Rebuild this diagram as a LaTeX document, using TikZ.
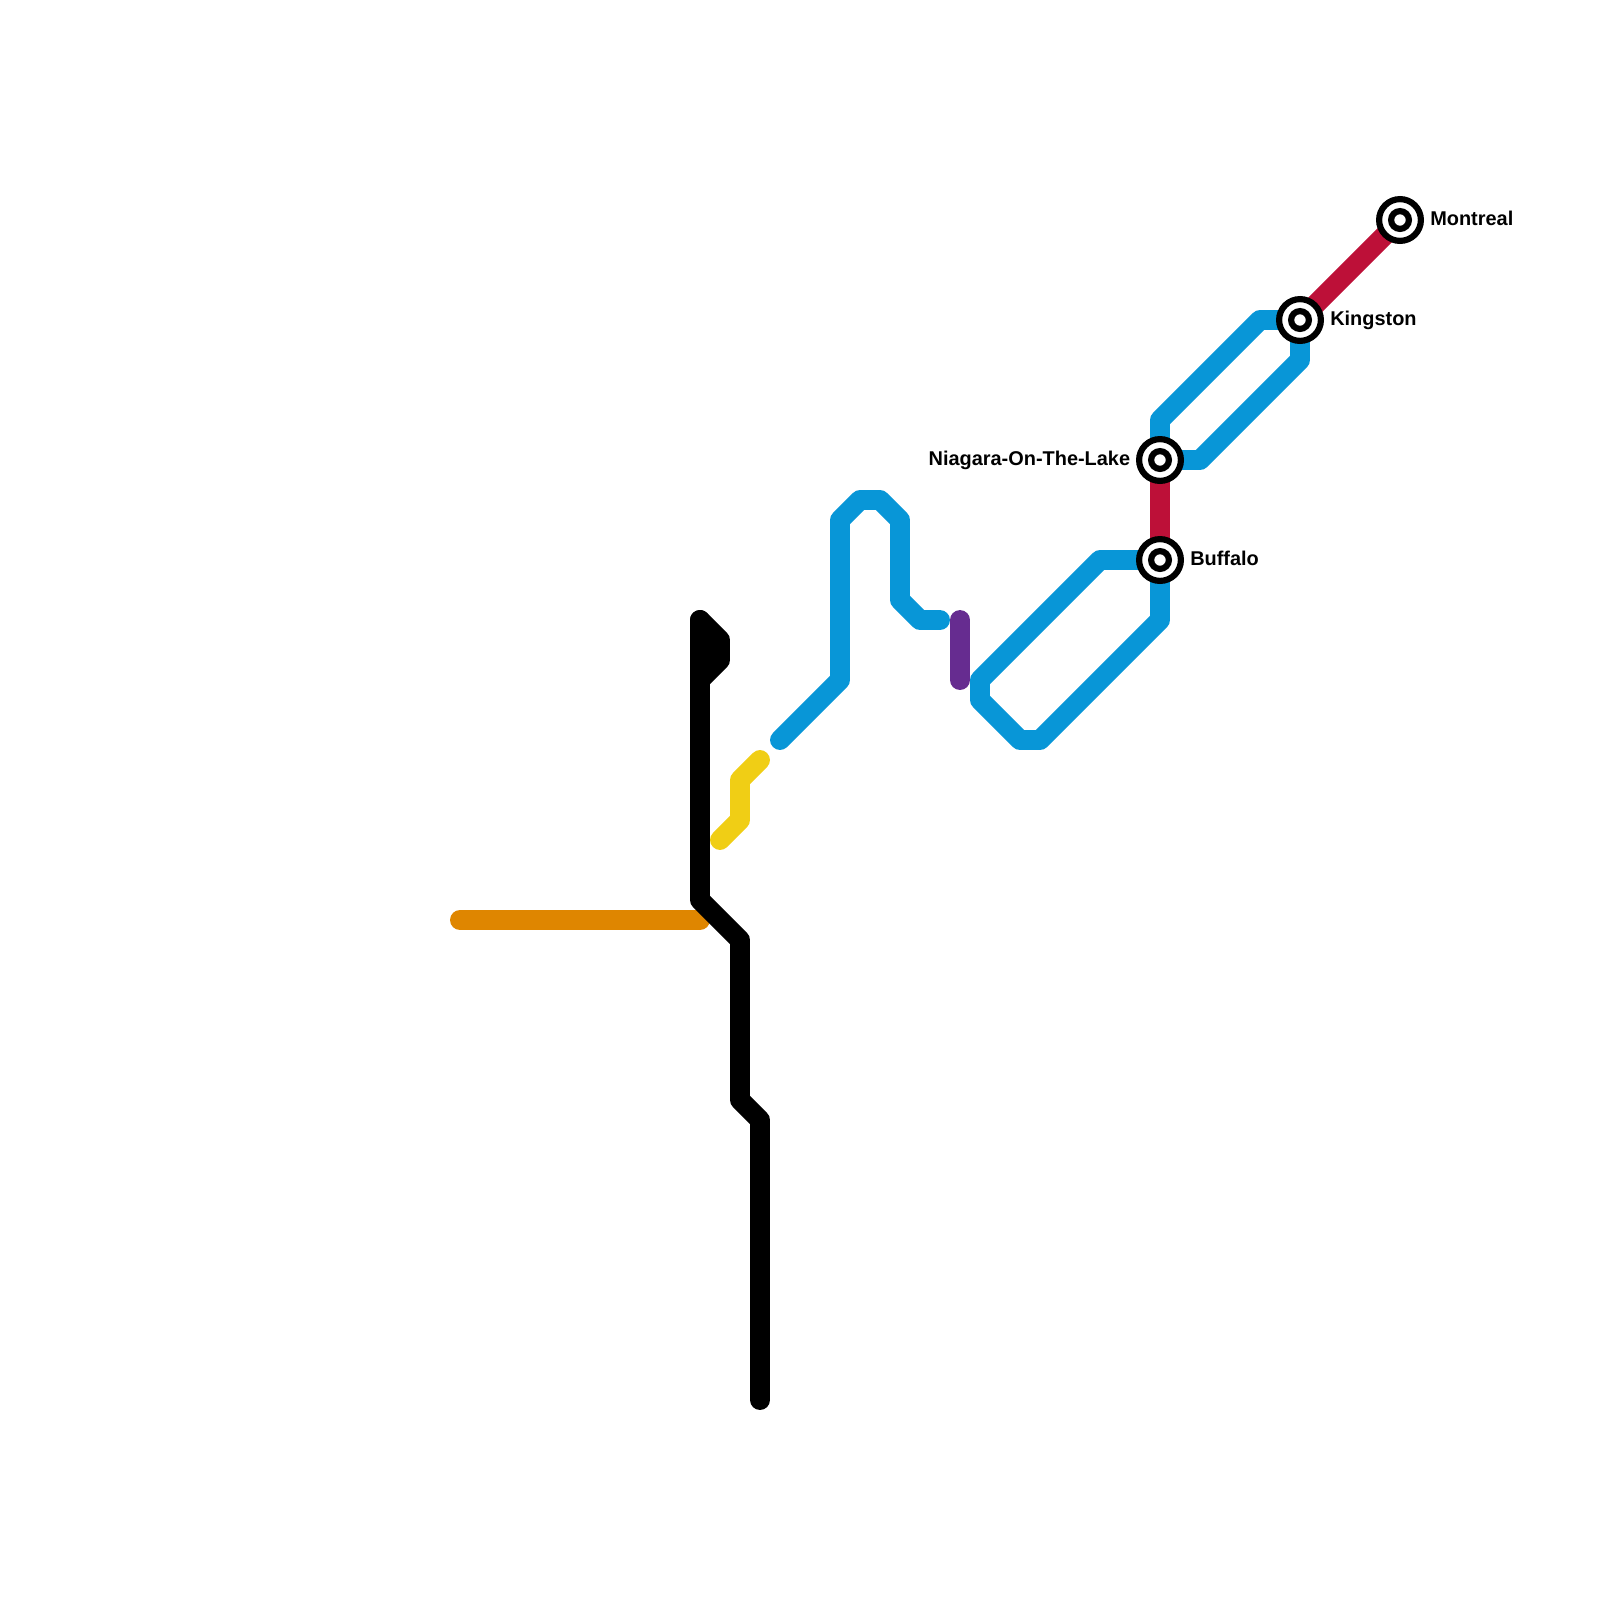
\documentclass[tikz,border=0pt]{standalone}
\usepackage{fontspec}
\setmainfont{Liberation Sans}
\usepackage{xcolor}
\usetikzlibrary{backgrounds}
\definecolor{linered}{HTML}{BD1038}
\definecolor{lineblue}{HTML}{0896D7}
\definecolor{lineorange}{HTML}{DF8600}
\definecolor{lineyellow}{HTML}{F0CE15}
\definecolor{linepurple}{HTML}{662C90}
\tikzset{
  transit/.style={line width=14.17pt, line cap=round, line join=round},
  station/.style={circle, draw=black, fill=white, line width=4.4pt, minimum size=1.045cm, inner sep=0pt},
  stationcore/.style={circle, draw=black, fill=white, line width=4.4pt, minimum size=0.445cm, inner sep=0pt},
  stationlabel/.style={inner sep=0pt, font=\fontsize{14.17}{17}\selectfont\bfseries}
}
\begin{document}
\begin{tikzpicture}[x=0.5cm, y=-0.5cm]
  \useasboundingbox (0,0) rectangle (80,80);
  % stations
  \foreach \name/\x/\y in {montreal/70/11, kingston/65/16, niagara/58/23, buffalo/58/28} {
    \node[station] (\name) at (\x,\y) {};
    \node[stationcore] (\name core) at (\x,\y) {};
  }
  % labels
  \node[stationlabel, anchor=base west] (montreal label) at (71.5,11.28) {Montreal};
  \node[stationlabel, anchor=base west] (kingston label) at (66.5,16.28) {Kingston};
  \node[stationlabel, anchor=base east] (niagara label) at (56.52,23.28) {Niagara-On-The-Lake};
  \node[stationlabel, anchor=base west] (buffalo label) at (59.5,28.28) {Buffalo};
  % lines go under the stations
  \begin{scope}[on background layer]
    \draw[transit, lineorange] (23,46) -- (35,46);
    \draw[transit, black] (35,31) -- (35,45) -- (37,47) -- (37,55) -- (38,56) -- (38,70);
    \draw[transit, black, fill=black] (35,31) -- (36,32) -- (36,33) -- (35,34) -- cycle;
    \draw[transit, lineyellow] (36,42) -- (37,41) -- (37,39) -- (38,38);
    \draw[transit, lineblue] (39,37) -- (42,34) -- (42,26) -- (43,25) -- (44,25) -- (45,26) -- (45,30) -- (46,31) -- (47,31);
    \draw[transit, linepurple] (48,31) -- (48,34);
    % loop below Buffalo
    \draw[transit, lineblue] (buffalo.center) -- (55,28) -- (49,34) -- (49,35) -- (51,37) -- (52,37) -- (58,31) -- (buffalo.center);
    % loop between Niagara and Kingston
    \draw[transit, lineblue] (niagara.center) -- (58,21) -- (63,16) -- (kingston.center) -- (65,18) -- (60,23) -- (niagara.center);
    \draw[transit, linered] (niagara.center) -- (buffalo.center);
    \draw[transit, linered] (kingston.center) -- (montreal.center);
  \end{scope}
\end{tikzpicture}
\end{document}
